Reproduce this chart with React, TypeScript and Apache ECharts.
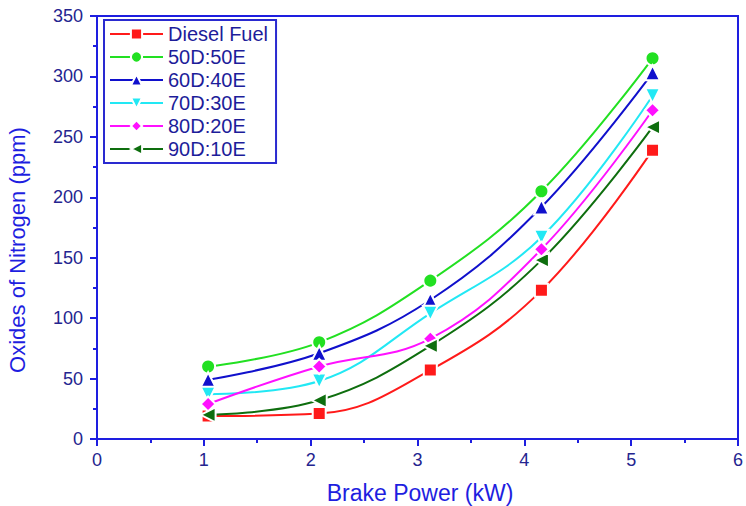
import React, { useEffect, useRef } from "react";
import * as echarts from "echarts";

const xValues = [1.04, 2.08, 3.12, 4.16, 5.2];
const seriesNames = ["Diesel Fuel", "50D:50E", "60D:40E", "70D:30E", "80D:20E", "90D:10E"];
const dieselFuel = [19, 21, 57, 123, 239];
const d50e50 = [60, 80, 131, 205, 315];
const d60e40 = [49, 71, 115, 192, 303];
const d70e30 = [37, 48, 104, 167, 284];
const d80e20 = [29, 60, 83, 157, 272];
const d90e10 = [20, 32, 77, 148, 258];
const allValues = [dieselFuel, d50e50, d60e40, d70e30, d80e20, d90e10];
const colors = ["#ff1a1a", "#22e022", "#1010cc", "#22e8f4", "#ff10ff", "#0e6e0e"];
const symbols = [
  "rect",
  "circle",
  "triangle",
  "path://M0,0 L10,0 L5,9 Z",
  "diamond",
  "path://M0,5 L9,0 L9,10 Z",
];
const symbolSizes = [13, 14, 15, 15, 15, 15];
const xTitle = "Brake Power (kW)";
const yTitle = "Oxides of Nitrogen (ppm)";

const FONT = "Liberation Sans, Arial, sans-serif";

export default function App() {
  const ref = useRef<HTMLDivElement>(null);
  useEffect(() => {
    if (!ref.current) return;
    const chart = echarts.init(ref.current, undefined, { renderer: "svg" });
    const axisColor = "#1e1ee0";
    const labelColor = "#24248f";
    chart.setOption({
      animation: false,
      grid: {
        left: 97,
        right: 5,
        top: 16,
        bottom: 67,
        show: true,
        borderColor: axisColor,
        borderWidth: 2,
      },
      legend: {
        left: 104,
        top: 20,
        orient: "vertical",
        itemWidth: 53,
        itemHeight: 14,
        itemGap: 3,
        padding: [4, 8, 4, 5],
        borderColor: "#2a2ad0",
        borderWidth: 2,
        textStyle: { color: "#1d1d9a", fontSize: 20, lineHeight: 20, fontFamily: FONT },
        data: seriesNames,
      },
      graphic: [
        {
          type: "text",
          x: 17,
          y: 250,
          rotation: Math.PI / 2,
          style: {
            text: yTitle,
            fill: axisColor,
            font: `22px ${FONT}`,
            align: "center",
            verticalAlign: "middle",
          },
        },
        {
          type: "text",
          x: 420,
          y: 493,
          style: {
            text: xTitle,
            fill: axisColor,
            font: `23px ${FONT}`,
            align: "center",
            verticalAlign: "middle",
          },
        },
      ],
      xAxis: {
        type: "value",
        min: 0,
        max: 6,
        interval: 1,
        axisLine: { lineStyle: { color: axisColor, width: 2 } },
        axisTick: { show: true, length: 7, inside: false, lineStyle: { color: axisColor, width: 2 } },
        minorTick: { show: true, splitNumber: 2, length: 4, lineStyle: { color: axisColor, width: 2 } },
        axisLabel: { color: labelColor, fontSize: 18, margin: 12, fontFamily: FONT },
        splitLine: { show: false },
      },
      yAxis: {
        type: "value",
        min: 0,
        max: 350,
        interval: 50,
        axisLine: { show: true, lineStyle: { color: axisColor, width: 2 } },
        axisTick: { show: true, length: 7, inside: false, lineStyle: { color: axisColor, width: 2 } },
        minorTick: { show: true, splitNumber: 2, length: 4, lineStyle: { color: axisColor, width: 2 } },
        axisLabel: { color: labelColor, fontSize: 18, margin: 14, fontFamily: FONT },
        splitLine: { show: false },
      },
      series: seriesNames.map((name, i) => ({
        name,
        type: "line",
        smooth: 0.4,
        data: xValues.map((x, j) => [x, allValues[i][j]]),
        symbol: symbols[i],
        symbolSize: symbolSizes[i],
        showAllSymbol: true,
        lineStyle: { color: colors[i], width: 2 },
        itemStyle: { color: colors[i], borderColor: "#ffffff", borderWidth: 2 },
        emphasis: { disabled: true },
        z: 2 + i,
      })),
    });
    return () => chart.dispose();
  }, []);
  return (
    <div
      ref={ref}
      style={{ position: "absolute", left: 0, top: 0, width: 746, height: 506 }}
    />
  );
}
